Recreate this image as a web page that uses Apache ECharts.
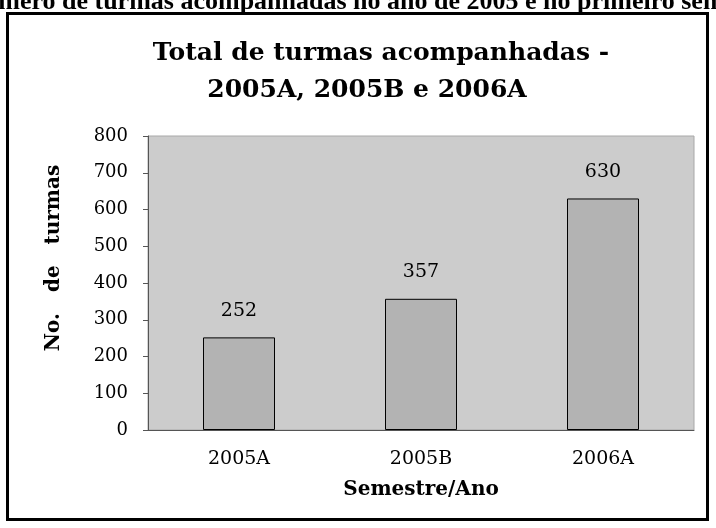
<!DOCTYPE html>
<html>
<head>
<meta charset="utf-8">
<script src="https://cdn.jsdelivr.net/npm/echarts@6/dist/echarts.min.js"></script>
<style>
  html, body { margin: 0; padding: 0; background: #fff; }
  #container { width: 716px; height: 528px; }
</style>
</head>
<body>
<div id="container"></div>
<script>
// dados do grafico
var semestres = ['2005A', '2005B', '2006A'];
var turmas = [252, 357, 630];
var yTicks = [0, 100, 200, 300, 400, 500, 600, 700, 800];

function graficoTurmas(){
    var dom = document.getElementById("container");
    var myChart = echarts.init(dom);
    var fonte = 'DejaVu Serif';
    var estiloTitulo = {
        fontFamily: fonte,
        fontWeight: 'bold',
        fontSize: 25,
        lineHeight: 37,
        color: '#000'
    };
    var option;
    option = {
        animation: false,
        backgroundColor: '#ffffff',
        title: [
            { text: 'Total de turmas acompanhadas -', left: 381, textAlign: 'center', top: 35, padding: 0, textStyle: estiloTitulo },
            { text: '2005A, 2005B e 2006A', left: 367, textAlign: 'center', top: 72, padding: 0, textStyle: estiloTitulo }
        ],
        graphic: [
            {
                type: 'text',
                style: {
                    x: -35,
                    y: 15,
                    verticalAlign: 'bottom',
                    text: 'Número de turmas acompanhadas no ano de 2005 e no primeiro semestre de 2006',
                    font: 'bold 26px "Liberation Serif"',
                    fill: '#000'
                }
            },
            {
                type: 'rect',
                shape: { x: 7.5, y: 13.5, width: 700, height: 506 },
                style: { fill: null, stroke: '#000', lineWidth: 3 }
            },
            {
                type: 'text',
                rotation: Math.PI / 2,
                x: 54,
                y: 258,
                style: {
                    text: 'No.   de   turmas',
                    font: 'bold 20px "DejaVu Serif"',
                    align: 'center',
                    verticalAlign: 'middle',
                    fill: '#000'
                }
            }
        ],
        grid: {
            left: 148,
            right: 22,
            top: 136,
            bottom: 98,
            show: true,
            backgroundColor: '#cccccc',
            borderColor: '#a8a8a8',
            borderWidth: 1
        },
        xAxis: {
            type: 'category',
            data: semestres,
            name: 'Semestre/Ano',
            nameLocation: 'middle',
            nameGap: 50,
            nameTextStyle: { fontFamily: fonte, fontWeight: 'bold', fontSize: 20, color: '#000' },
            axisLine: { lineStyle: { color: '#555', width: 1 } },
            axisTick: { length: 5, lineStyle: { color: '#555' } },
            axisLabel: { fontFamily: fonte, fontSize: 19, color: '#000', margin: 20 }
        },
        yAxis: {
            type: 'value',
            min: yTicks[0],
            max: yTicks[yTicks.length - 1],
            interval: 100,
            axisLine: { show: true, lineStyle: { color: '#555', width: 1 } },
            axisTick: { show: true, length: 5, lineStyle: { color: '#555' } },
            splitLine: { show: false },
            axisLabel: { fontFamily: fonte, fontSize: 18, color: '#000', margin: 20 }
        },
        series: [{
            type: 'bar',
            data: turmas,
            barWidth: 72,
            itemStyle: { color: '#b3b3b3', borderColor: '#000', borderWidth: 1 },
            label: {
                show: true,
                position: 'top',
                distance: 17,
                fontFamily: fonte,
                fontSize: 19,
                color: '#000'
            }
        }]
    };
    if (option && typeof option === 'object') {
        myChart.setOption(option);
    }
}
graficoTurmas();
</script>
</body>
</html>
